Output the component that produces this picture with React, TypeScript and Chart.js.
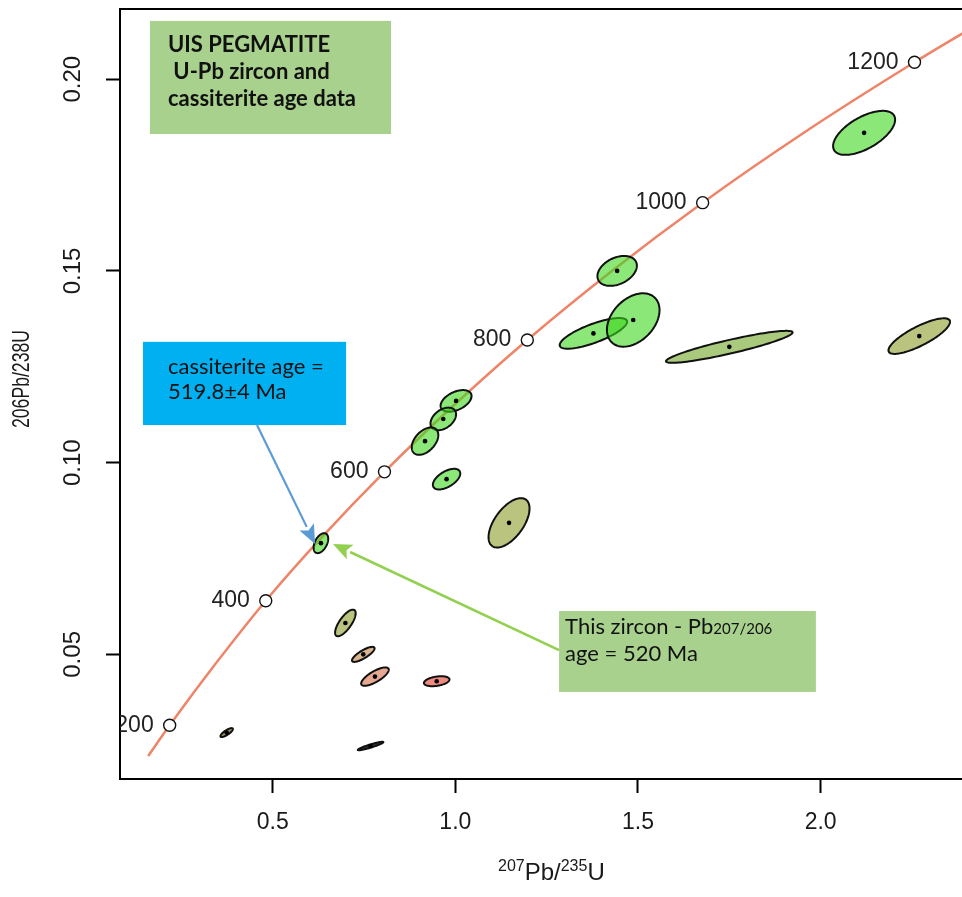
import React, { useEffect, useRef } from 'react';
import { Chart, registerables } from 'chart.js';

Chart.register(...registerables);

// ---- Concordia curve (207Pb/235U, 206Pb/238U) ----
const concordiaX = [0.159, 0.218, 0.344, 0.481, 0.636, 0.806, 0.993, 1.197, 1.426, 1.677, 1.955, 2.257, 2.425];
const concordiaY = [0.0235, 0.0315, 0.0476, 0.064, 0.0807, 0.0976, 0.1147, 0.132, 0.1498, 0.1678, 0.1861, 0.2044, 0.214];

// ---- Age markers on the concordia (Ma) ----
const ageLabels = ['200', '400', '600', '800', '1000', '1200'];
const ageX = [0.218, 0.481, 0.806, 1.197, 1.677, 2.257];
const ageY = [0.0315, 0.064, 0.0976, 0.132, 0.1678, 0.2044];

// ---- Axis ticks ----
const xTicks = [0.5, 1.0, 1.5, 2.0];
const yTicks = [0.05, 0.1, 0.15, 0.2];

// ---- Error ellipses: centre, half-width (x), half-height (y), correlation, group ----
const ellX = [2.119, 1.443, 1.378, 1.487, 1.75, 2.27, 1.002, 0.967, 0.917, 0.976, 1.147, 0.632, 0.699, 0.748, 0.78, 0.949, 0.374, 0.768];
const ellY = [0.186, 0.15, 0.1337, 0.1372, 0.1302, 0.133, 0.1161, 0.1114, 0.1056, 0.0957, 0.0843, 0.079, 0.0582, 0.05, 0.0442, 0.043, 0.0296, 0.0261];
const ellSX = [0.0849, 0.054, 0.0923, 0.072, 0.1733, 0.0843, 0.0424, 0.035, 0.0364, 0.0375, 0.0561, 0.02, 0.0282, 0.0309, 0.0378, 0.035, 0.017, 0.035];
const ellSY = [0.00574, 0.0039, 0.004, 0.00696, 0.00417, 0.00464, 0.00282, 0.00295, 0.00357, 0.00269, 0.00644, 0.0026, 0.00347, 0.00196, 0.0024, 0.0013, 0.00117, 0.0011];
const ellRho = [0.6, 0.35, 0.76, 0.37, 0.9, 0.8, 0.45, 0.4, 0.45, 0.55, 0.58, 0.45, 0.73, 0.8, 0.75, 0.35, 0.8, 0.92];
const ellGroup = ['green', 'green', 'green', 'green', 'olive', 'khaki', 'green', 'green', 'green', 'green', 'khaki', 'green', 'khaki', 'tan', 'salmon', 'red', 'darkOlive', 'black'];

// ---- Annotation texts ----
const titleLines = ['UIS PEGMATITE', ' U-Pb zircon and', 'cassiterite age data'];
const cassLines = ['cassiterite age =', '519.8\u00b14 Ma'];
const zirconLine1 = 'This zircon - Pb';
const zirconSub = '207/206';
const zirconLine2 = 'age = 520 Ma';

// styles
const groupFill: Record<string, string> = {
  green: 'rgba(60,215,30,0.6)',
  olive: '#a9c97c',
  khaki: '#bac47f',
  tan: '#d8b48e',
  salmon: '#e6a890',
  red: '#ef8a80',
  darkOlive: '#9c8f5c',
  black: '#3a3a2a',
};

const SANS = "'Liberation Sans', Arial, Helvetica, sans-serif";
const CAL = "Lato, 'Open Sans', sans-serif";

const ellipsePlugin = {
  id: 'ellipses',
  afterDatasetDraw(chart: any, args: any) {
    if (args.index !== 0) return;
    const { ctx, chartArea, scales } = chart;
    const xs = scales.x;
    const ys = scales.y;
    ctx.save();
    ctx.beginPath();
    ctx.rect(chartArea.left, chartArea.top, chartArea.right - chartArea.left, chartArea.bottom - chartArea.top);
    ctx.clip();
    for (let i = 0; i < ellX.length; i++) {
      const r = ellRho[i];
      const q = Math.sqrt(1 - r * r);
      ctx.beginPath();
      const N = 120;
      for (let k = 0; k <= N; k++) {
        const t = (k / N) * Math.PI * 2;
        const px = xs.getPixelForValue(ellX[i] + ellSX[i] * Math.cos(t));
        const py = ys.getPixelForValue(ellY[i] + ellSY[i] * (r * Math.cos(t) + q * Math.sin(t)));
        if (k === 0) ctx.moveTo(px, py);
        else ctx.lineTo(px, py);
      }
      ctx.closePath();
      ctx.fillStyle = groupFill[ellGroup[i]];
      ctx.fill();
      ctx.lineWidth = 2;
      ctx.strokeStyle = '#111';
      ctx.stroke();
    }
    ctx.restore();
  },
};

const ageLabelPlugin = {
  id: 'ageLabels',
  afterDatasetsDraw(chart: any) {
    const { ctx, chartArea, scales } = chart;
    ctx.save();
    ctx.beginPath();
    ctx.rect(chartArea.left, chartArea.top, chartArea.right - chartArea.left, chartArea.bottom - chartArea.top);
    ctx.clip();
    ctx.font = `23px ${SANS}`;
    ctx.fillStyle = '#222';
    ctx.textAlign = 'right';
    ctx.textBaseline = 'middle';
    for (let i = 0; i < ageLabels.length; i++) {
      const px = scales.x.getPixelForValue(ageX[i]);
      const py = scales.y.getPixelForValue(ageY[i]);
      ctx.fillText(ageLabels[i], px - 16, py);
    }
    ctx.restore();
  },
};

function arrow(ctx: CanvasRenderingContext2D, x0: number, y0: number, x1: number, y1: number, color: string, w: number) {
  const ang = Math.atan2(y1 - y0, x1 - x0);
  const len = 19;
  const half = 8;
  const bx = x1 - len * Math.cos(ang);
  const by = y1 - len * Math.sin(ang);
  ctx.save();
  ctx.strokeStyle = color;
  ctx.fillStyle = color;
  ctx.lineWidth = w;
  ctx.beginPath();
  ctx.moveTo(x0, y0);
  ctx.lineTo(bx, by);
  ctx.stroke();
  ctx.beginPath();
  ctx.moveTo(x1, y1);
  ctx.lineTo(bx + half * Math.sin(ang), by - half * Math.cos(ang));
  ctx.lineTo(bx + 4 * Math.cos(ang), by + 4 * Math.sin(ang));
  ctx.lineTo(bx - half * Math.sin(ang), by + half * Math.cos(ang));
  ctx.closePath();
  ctx.fill();
  ctx.restore();
}

const annotationPlugin = {
  id: 'annots',
  afterDraw(chart: any) {
    const { ctx, chartArea, scales } = chart;
    const X = (v: number) => scales.x.getPixelForValue(v);
    const Y = (v: number) => scales.y.getPixelForValue(v);
    ctx.save();

    // top border of the plot box
    ctx.strokeStyle = '#000';
    ctx.lineWidth = 2;
    ctx.beginPath();
    ctx.moveTo(chartArea.left - 1, chartArea.top);
    ctx.lineTo(chartArea.right, chartArea.top);
    ctx.stroke();

    // title box
    let bx = X(0.164), by = Y(0.2152);
    ctx.fillStyle = '#a9d18e';
    ctx.fillRect(bx, by, X(0.824) - bx, Y(0.1857) - by);
    ctx.fillStyle = '#111';
    ctx.font = `bold 22px ${CAL}`;
    ctx.textAlign = 'left';
    ctx.textBaseline = 'alphabetic';
    titleLines.forEach((s, i) => ctx.fillText(s, bx + 18, by + 31 + i * 27));

    // cassiterite box
    bx = X(0.145); by = Y(0.1315);
    ctx.fillStyle = '#00b0f0';
    ctx.fillRect(bx, by, X(0.701) - bx, Y(0.1098) - by);
    ctx.fillStyle = '#111';
    ctx.font = `22px ${CAL}`;
    cassLines.forEach((s, i) => ctx.fillText(s, bx + 25, by + 32 + i * 25));

    // zircon box
    bx = X(1.284); by = Y(0.0613);
    ctx.fillStyle = '#a9d18e';
    ctx.fillRect(bx, by, X(1.987) - bx, Y(0.0402) - by);
    ctx.fillStyle = '#111';
    ctx.font = `22px ${CAL}`;
    ctx.fillText(zirconLine1, bx + 6, by + 23);
    const w1 = ctx.measureText(zirconLine1).width;
    ctx.font = `15px ${CAL}`;
    ctx.fillText(zirconSub, bx + 6 + w1, by + 23);
    ctx.font = `22px ${CAL}`;
    ctx.fillText(zirconLine2, bx + 6, by + 50);

    // arrows
    arrow(ctx, X(0.457), Y(0.1098), X(0.616), Y(0.0788), '#5b9bd5', 2.2);
    arrow(ctx, X(1.284), Y(0.0511), X(0.665), Y(0.0788), '#92d050', 2.6);

    // x axis title with superscripts
    ctx.fillStyle = '#1a1a1a';
    ctx.textBaseline = 'alphabetic';
    let tx = 498;
    const base = chartArea.bottom + 101;
    const parts: [string, boolean][] = [['207', true], ['Pb/', false], ['235', true], ['U', false]];
    for (const [s, sup] of parts) {
      ctx.font = sup ? `16px ${SANS}` : `24px ${SANS}`;
      ctx.fillText(s, tx, sup ? base - 9 : base);
      tx += ctx.measureText(s).width;
    }

    // y axis title (condensed)
    ctx.save();
    ctx.translate(22, 379);
    ctx.rotate(-Math.PI / 2);
    ctx.font = `24px ${SANS}`;
    ctx.textAlign = 'center';
    ctx.textBaseline = 'middle';
    ctx.fillText('206Pb/238U', 0, 0, 98);
    ctx.restore();

    ctx.restore();
  },
};

export default function App() {
  const ref = useRef<HTMLCanvasElement>(null);
  useEffect(() => {
    if (!ref.current) return;
    const chart = new Chart(ref.current, {
      type: 'scatter',
      data: {
        datasets: [
          {
            label: 'Concordia',
            data: concordiaX.map((x, i) => ({ x, y: concordiaY[i] })),
            showLine: true,
            borderColor: '#ee8468',
            borderWidth: 2.5,
            pointRadius: 0,
            cubicInterpolationMode: 'monotone',
            fill: false,
            order: 3,
          } as any,
          {
            label: 'Centres',
            data: ellX.map((x, i) => ({ x, y: ellY[i] })),
            pointRadius: 2.3,
            backgroundColor: '#000',
            borderWidth: 0,
            order: 1,
          },
          {
            label: 'Ages',
            data: ageX.map((x, i) => ({ x, y: ageY[i] })),
            pointRadius: 6,
            backgroundColor: '#fff',
            borderColor: '#111',
            borderWidth: 1.4,
            order: 0,
          },
        ],
      },
      options: {
        responsive: false,
        animation: false,
        devicePixelRatio: 1,
        events: [],
        layout: { autoPadding: false, padding: { top: 9, left: 0, right: 0, bottom: 0 } },
        plugins: { legend: { display: false }, tooltip: { enabled: false } },
        scales: {
          x: {
            type: 'linear',
            min: 0.082,
            max: 2.387,
            afterBuildTicks: (s: any) => { s.ticks = xTicks.map((v) => ({ value: v })); },
            afterFit: (s: any) => { s.height = 118; s.paddingLeft = 0; s.paddingRight = 0; },
            ticks: {
              font: { size: 23, family: SANS },
              color: '#1a1a1a',
              padding: 16,
              maxRotation: 0,
              callback: (v: any) => Number(v).toFixed(1),
            },
            grid: { display: true, drawOnChartArea: false, drawTicks: true, tickLength: 14, tickWidth: 2, tickColor: '#000' },
            border: { display: true, color: '#000', width: 2 },
          },
          y: {
            type: 'linear',
            min: 0.0175,
            max: 0.2183,
            afterBuildTicks: (s: any) => { s.ticks = yTicks.map((v) => ({ value: v })); },
            afterFit: (s: any) => { s.width = 120; s.paddingTop = 0; s.paddingBottom = 0; },
            ticks: {
              font: { size: 24, family: SANS },
              color: '#1a1a1a',
              padding: 9,
              minRotation: 90,
              maxRotation: 90,
              crossAlign: 'center',
              callback: (v: any) => Number(v).toFixed(2),
            },
            grid: { display: true, drawOnChartArea: false, drawTicks: true, tickLength: 14, tickWidth: 2, tickColor: '#000' },
            border: { display: true, color: '#000', width: 2 },
          },
        },
      },
      plugins: [ellipsePlugin, ageLabelPlugin, annotationPlugin],
    } as any);
    return () => chart.destroy();
  }, []);
  return (
    <div style={{ position: 'absolute', left: 0, top: 0, width: 962, height: 897, background: '#fff', overflow: 'hidden' }}>
      <canvas ref={ref} width={962} height={897} style={{ display: 'block', width: 962, height: 897 }} />
    </div>
  );
}
